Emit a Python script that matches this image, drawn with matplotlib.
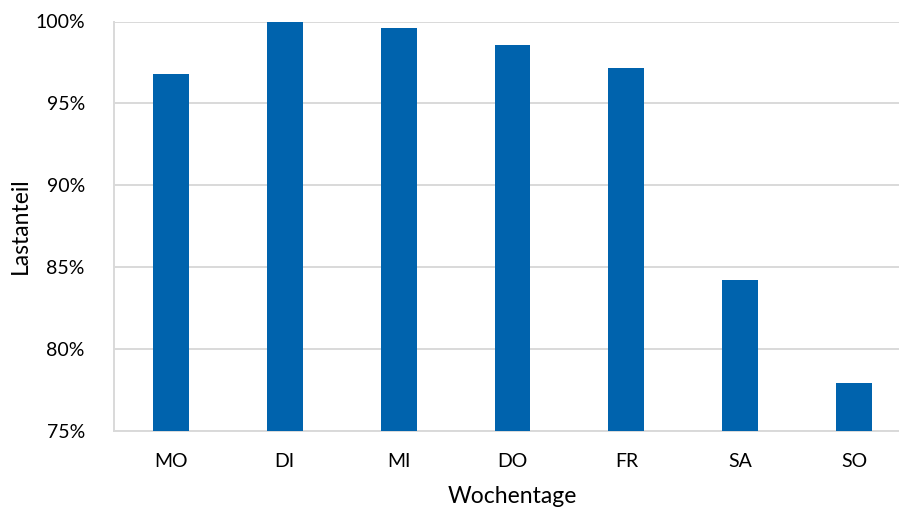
import matplotlib
matplotlib.use("Agg")
import matplotlib.pyplot as plt
from matplotlib.ticker import FuncFormatter

# Lastanteil je Wochentag (in %)
tage = ["MO", "DI", "MI", "DO", "FR", "SA", "SO"]
lastanteil = [96.78, 100.0, 99.59, 98.55, 97.14, 84.17, 77.88]
y_ticks = [75, 80, 85, 90, 95, 100]

plt.rcParams["font.family"] = ["Lato", "DejaVu Sans"]

W, H = 899, 508
fig = plt.figure(figsize=(W / 100, H / 100), dpi=100)
left, right, top, bottom = 114, 911, 21.5, 430.5
ax = fig.add_axes([left / W, 1 - bottom / H, (right - left) / W, (bottom - top) / H])

x = range(len(tage))
ax.bar(x, lastanteil, width=0.315, color="#0063AD", zorder=3)

ax.set_xlim(-0.5, len(tage) - 0.5)
ax.set_ylim(75, 100)
ax.set_yticks(y_ticks)
ax.yaxis.set_major_formatter(FuncFormatter(lambda v, p: f"{v:.0f}%"))
ax.set_xticks(list(x))
ax.set_xticklabels(tage)

grid_c = "#D9D9D9"
ax.grid(axis="y", color=grid_c, linewidth=1.4, zorder=0)
for s in ("top", "right"):
    ax.spines[s].set_visible(False)
for s in ("left", "bottom"):
    ax.spines[s].set_color(grid_c)
    ax.spines[s].set_linewidth(1.4)
ax.tick_params(axis="both", length=0, labelsize=14, colors="#000000")
ax.tick_params(axis="y", pad=21)
ax.tick_params(axis="x", pad=16)

# Achsentitel
fig.text(512 / W, 1 - 503 / H, "Wochentage", fontsize=16.5, ha="center", va="baseline")
fig.text(27 / W, 1 - 226 / H, "Lastanteil", fontsize=16.5, ha="center", va="baseline",
         rotation=90, rotation_mode="anchor")

fig.savefig("out.png", dpi=100)
